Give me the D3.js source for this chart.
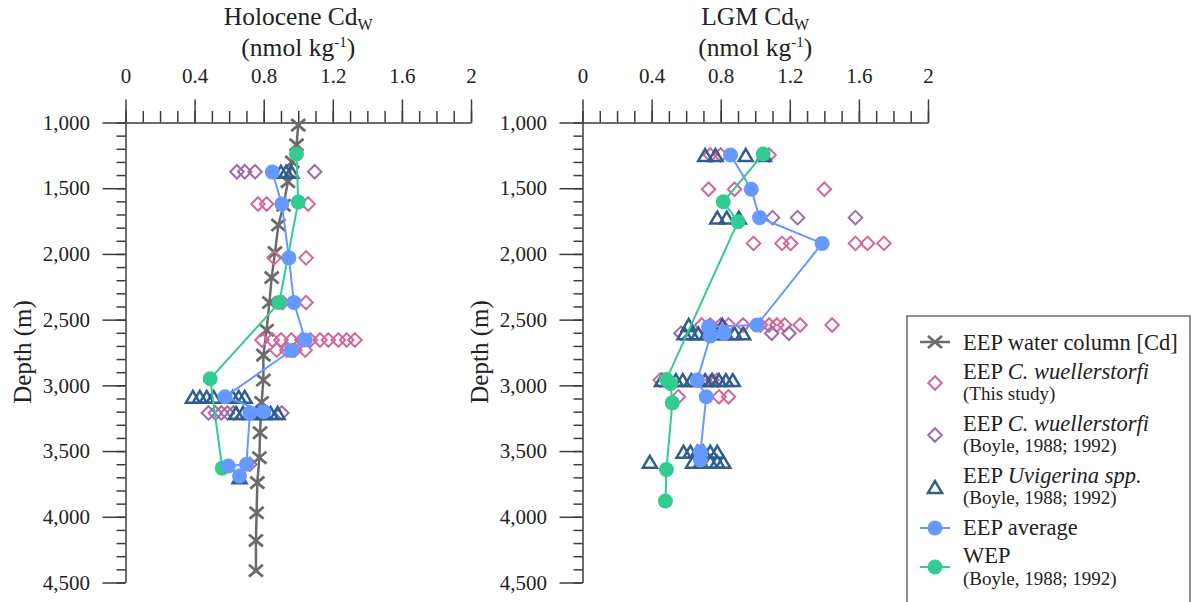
<!DOCTYPE html>
<html>
<head>
<meta charset="utf-8">
<script src="https://cdn.jsdelivr.net/npm/d3@7"></script>
<style>
  body { margin: 0; background: #fff; }
  svg { display: block; }
  text { font-family: "Liberation Serif", "Times New Roman", serif; fill: #222; }
</style>
</head>
<body>
<svg id="chart" width="1193" height="602"></svg>
<script>
// ---- axes ----
const cdTicks = [0, 0.4, 0.8, 1.2, 1.6, 2];
const depthTicks = [1000, 1500, 2000, 2500, 3000, 3500, 4000, 4500];

// ---- Holocene panel ----
// water column profile: [depth (m), Cd (nmol/kg)]
const holoWaterColumn = [
  [1020, 1.00], [1170, 0.99], [1300, 0.965], [1450, 0.94], [1630, 0.915],
  [1780, 0.885], [1990, 0.865], [2180, 0.846], [2370, 0.833], [2580, 0.817],
  [2770, 0.798], [2960, 0.798], [3130, 0.788], [3360, 0.779], [3550, 0.775],
  [3740, 0.763], [3970, 0.759], [4180, 0.755], [4410, 0.755]
];
// foram-derived Cdw: [depth, [values...]]
const holoCwThisStudy = [
  [1620, [0.767, 0.817, 1.057]],
  [2030, [0.86, 1.045]],
  [2370, [0.91, 1.045]],
  [2655, [0.79, 0.85, 0.90, 0.96, 1.02, 1.07, 1.126, 1.174, 1.232, 1.28, 1.328]],
  [2732, [0.875, 0.933, 0.98, 1.04]]
];
const holoCwBoyle = [
  [1375, [0.645, 0.69, 0.75, 1.095]],
  [3210, [0.48, 0.52, 0.555, 0.59, 0.625, 0.905]],
  [3600, [0.72]]
];
const holoUvigerina = [
  [1375, [0.90, 0.93, 0.96]],
  [3087, [0.39, 0.43, 0.47, 0.51, 0.62, 0.655, 0.69]],
  [3210, [0.64, 0.68, 0.72, 0.76, 0.80, 0.84, 0.88]],
  [3700, [0.66]]
];
// averages: [depth, Cd]
const holoEepAverage = [
  [1377, 0.85], [1620, 0.905], [2030, 0.946], [2370, 0.975], [2655, 1.04],
  [2735, 0.96], [3087, 0.576], [3200, 0.80], [3210, 0.72], [3600, 0.70],
  [3614, 0.595], [3690, 0.66]
];
const holoWep = [
  [1240, 0.99], [1605, 1.0], [2370, 0.89], [2950, 0.49], [3630, 0.56]
];

// ---- LGM panel ----
const lgmCwThisStudy = [
  [1247, [0.74, 0.80, 1.08]],
  [1508, [0.73, 0.88, 1.40]],
  [1920, [0.99, 1.155, 1.205, 1.58, 1.65, 1.745]],
  [2541, [0.69, 0.74, 0.80, 0.845, 0.93, 1.03, 1.08, 1.125, 1.17, 1.26, 1.445]],
  [2960, [0.45, 0.75, 0.78]],
  [3087, [0.555, 0.79, 0.845]]
];
const lgmCwBoyle = [
  [1724, [1.10, 1.245, 1.58]],
  [2604, [0.57, 1.095, 1.195]]
];
const lgmUvigerina = [
  [1247, [0.71, 0.77, 0.945, 1.05]],
  [1724, [0.78, 0.835, 0.905]],
  [2541, [0.615, 0.81]],
  [2604, [0.59, 0.63, 0.67, 0.72, 0.77, 0.83, 0.88, 0.93]],
  [2960, [0.46, 0.50, 0.54, 0.58, 0.63, 0.67, 0.71, 0.75, 0.79, 0.83, 0.87]],
  [3505, [0.585, 0.625, 0.665, 0.70, 0.74, 0.78]],
  [3581, [0.39, 0.64, 0.685, 0.74, 0.78, 0.815]]
];
const lgmEepAverage = [
  [1247, 0.857], [1508, 0.977], [1724, 1.025], [1920, 1.387], [2541, 1.01],
  [2555, 0.73], [2604, 0.82], [2625, 0.74], [2960, 0.664], [3087, 0.716],
  [3505, 0.683], [3568, 0.683]
];
const lgmWep = [
  [1240, 1.046], [1603, 0.815], [1755, 0.90], [2955, 0.486], [2985, 0.51],
  [3133, 0.52], [3640, 0.486], [3880, 0.48]
];

// ---- styles ----
const serif = '"Liberation Serif", "Times New Roman", serif';
const colors = {
  water: "#6b6b6b",
  cwThis: "#d2679e",
  cwBoyle: "#9f6aab",
  uvi: "#2f5e8e",
  avg: "#6699ff",
  wep: "#33cc90",
  axis: "#3c3c3c"
};

// marker shapes for d3.symbol
const diamondShape = {
  draw(ctx, size) {
    const r = Math.sqrt(size) / 2;
    ctx.moveTo(0, -r); ctx.lineTo(r, 0); ctx.lineTo(0, r); ctx.lineTo(-r, 0); ctx.closePath();
  }
};
const triangleShape = {
  draw(ctx, size) {
    const w = Math.sqrt(size) / 2, h = w * 0.85;
    ctx.moveTo(0, -h); ctx.lineTo(w, h); ctx.lineTo(-w, h); ctx.closePath();
  }
};
const crossShape = {
  draw(ctx, size) {
    const w = Math.sqrt(size) / 2, h = w * 0.85;
    ctx.moveTo(-w, -h); ctx.lineTo(w, h); ctx.moveTo(-w, h); ctx.lineTo(w, -h);
  }
};
const diamondPath = d3.symbol(diamondShape, 13.5 * 13.5)();
const trianglePath = d3.symbol(triangleShape, 14 * 14)();
const crossPath = d3.symbol(crossShape, 14 * 14)();

const svg = d3.select("#chart").attr("font-family", serif);
const y = d3.scaleLinear().domain([1000, 4500]).range([122.5, 582.5]);

function flatten(rows) {
  return rows.flatMap(([depth, vals]) => vals.map(v => [depth, v]));
}

function styleAxis(sel) {
  sel.attr("font-family", serif).attr("font-size", 21);
  sel.selectAll(".tick line, .domain").attr("stroke", colors.axis).attr("stroke-width", 1.5);
  sel.selectAll(".tick text").attr("font-family", serif).attr("font-size", 21).attr("fill", "#222");
}

function drawPanel(cfg) {
  const x = d3.scaleLinear().domain([0, 2]).range([cfg.x0, cfg.x0 + 345.5]);
  const g = svg.append("g");

  // y axis: minor ticks every 100 m, labelled majors every 500 m
  g.append("g")
    .attr("transform", `translate(${cfg.x0},0)`)
    .call(d3.axisLeft(y).tickValues(d3.range(1000, 4501, 100)).tickSize(9).tickFormat(""))
    .call(s => s.select(".domain").remove())
    .call(styleAxis);
  g.append("g")
    .attr("transform", `translate(${cfg.x0},0)`)
    .call(d3.axisLeft(y).tickValues(depthTicks).tickSize(23).tickSizeOuter(0)
      .tickPadding(12.5).tickFormat(d3.format(",")))
    .call(styleAxis);

  // x axis on top: minor ticks every 0.1
  g.append("g")
    .attr("transform", `translate(0,${y(1000)})`)
    .call(d3.axisTop(x).tickValues(d3.range(0, 21).map(i => i / 10)).tickSize(11.5).tickFormat(""))
    .call(s => s.select(".domain").remove())
    .call(styleAxis);
  g.append("g")
    .attr("transform", `translate(0,${y(1000)})`)
    .call(d3.axisTop(x).tickValues(cdTicks).tickSize(23).tickSizeOuter(0)
      .tickPadding(17).tickFormat(d => String(d)))
    .call(styleAxis);

  // titles
  const cx = (x(0) + x(2)) / 2;
  const t1 = g.append("text").attr("x", cx).attr("y", 25).attr("text-anchor", "middle").attr("font-size", 25.5);
  t1.append("tspan").text(cfg.title + " Cd");
  t1.append("tspan").attr("font-size", 16).attr("dy", 5).text("W");
  const t2 = g.append("text").attr("x", cx).attr("y", 56).attr("text-anchor", "middle").attr("font-size", 25.5);
  t2.append("tspan").text("(nmol kg");
  t2.append("tspan").attr("font-size", 15).attr("dy", -9).text("-1");
  t2.append("tspan").attr("dy", 9).text(")");

  g.append("text")
    .attr("transform", `translate(${cfg.x0 - 94.5},352) rotate(-90)`)
    .attr("text-anchor", "middle").attr("font-size", 25)
    .text("Depth (m)");

  const line = d3.line().x(d => x(d[1])).y(d => y(d[0]));

  // water column
  if (cfg.water) {
    g.append("path").datum(cfg.water).attr("d", line)
      .attr("fill", "none").attr("stroke", colors.water).attr("stroke-width", 2.5);
    g.selectAll(null).data(cfg.water).join("path")
      .attr("d", crossPath)
      .attr("transform", d => `translate(${x(d[1])},${y(d[0])})`)
      .attr("fill", "none").attr("stroke", colors.water).attr("stroke-width", 2.8);
  }

  const scatter = (rows, path, color, sw) => {
    g.selectAll(null).data(flatten(rows)).join("path")
      .attr("d", path)
      .attr("transform", d => `translate(${x(d[1])},${y(d[0])})`)
      .attr("fill", "none").attr("stroke", color).attr("stroke-width", sw);
  };
  scatter(cfg.cwThis, diamondPath, colors.cwThis, 2);
  scatter(cfg.cwBoyle, diamondPath, colors.cwBoyle, 2);
  scatter(cfg.uvi, trianglePath, colors.uvi, 2.5);

  const series = (data, color) => {
    g.append("path").datum(data).attr("d", line)
      .attr("fill", "none").attr("stroke", color).attr("stroke-width", 2);
    g.selectAll(null).data(data).join("circle")
      .attr("cx", d => x(d[1])).attr("cy", d => y(d[0])).attr("r", 7.5)
      .attr("fill", color);
  };
  series(cfg.wep, colors.wep);
  series(cfg.avg, colors.avg);
}

drawPanel({
  x0: 125.5, title: "Holocene", water: holoWaterColumn,
  cwThis: holoCwThisStudy, cwBoyle: holoCwBoyle, uvi: holoUvigerina,
  avg: holoEepAverage, wep: holoWep
});
drawPanel({
  x0: 582.5, title: "LGM", water: null,
  cwThis: lgmCwThisStudy, cwBoyle: lgmCwBoyle, uvi: lgmUvigerina,
  avg: lgmEepAverage, wep: lgmWep
});

// ---- legend ----
const legend = svg.append("g");
legend.append("rect")
  .attr("x", 907).attr("y", 316).attr("width", 283).attr("height", 300)
  .attr("fill", "#fff").attr("stroke", "#555").attr("stroke-width", 1.3);

const lx = 935, tx = 963;
const legendItems = [
  { kind: "water", sy: 342, lines: [{ y: 350, parts: [["EEP water column [Cd]", false]] }] },
  { kind: "cwThis", sy: 383, lines: [
      { y: 379, parts: [["EEP ", false], ["C. wuellerstorfi", true]] },
      { y: 400, small: true, parts: [["(This study)", false]] }] },
  { kind: "cwBoyle", sy: 435, lines: [
      { y: 431, parts: [["EEP ", false], ["C. wuellerstorfi", true]] },
      { y: 452, small: true, parts: [["(Boyle, 1988; 1992)", false]] }] },
  { kind: "uvi", sy: 487, lines: [
      { y: 483, parts: [["EEP ", false], ["Uvigerina spp.", true]] },
      { y: 504, small: true, parts: [["(Boyle, 1988; 1992)", false]] }] },
  { kind: "avg", sy: 528, lines: [{ y: 535, parts: [["EEP average", false]] }] },
  { kind: "wep", sy: 567, lines: [
      { y: 563, parts: [["WEP", false]] },
      { y: 585, small: true, parts: [["(Boyle, 1988; 1992)", false]] }] }
];

legendItems.forEach(item => {
  const s = legend.append("g").attr("transform", `translate(${lx},${item.sy})`);
  if (item.kind === "water") {
    s.append("line").attr("x1", -15).attr("x2", 15).attr("stroke", colors.water).attr("stroke-width", 2.5);
    s.append("path").attr("d", crossPath).attr("fill", "none").attr("stroke", colors.water).attr("stroke-width", 2.8);
  } else if (item.kind === "cwThis" || item.kind === "cwBoyle") {
    s.append("path").attr("d", diamondPath).attr("fill", "none").attr("stroke", colors[item.kind]).attr("stroke-width", 2);
  } else if (item.kind === "uvi") {
    s.append("path").attr("d", trianglePath).attr("fill", "none").attr("stroke", colors.uvi).attr("stroke-width", 2.5);
  } else {
    s.append("line").attr("x1", -15).attr("x2", 15).attr("stroke", colors[item.kind]).attr("stroke-width", 2);
    s.append("circle").attr("r", 7.5).attr("fill", colors[item.kind]);
  }
  item.lines.forEach(ln => {
    const t = legend.append("text").attr("x", tx).attr("y", ln.y)
      .attr("font-family", serif).attr("font-size", ln.small ? 19 : 22.5);
    ln.parts.forEach(([str, it]) => {
      t.append("tspan").attr("font-style", it ? "italic" : "normal").text(str);
    });
  });
});
</script>
</body>
</html>
